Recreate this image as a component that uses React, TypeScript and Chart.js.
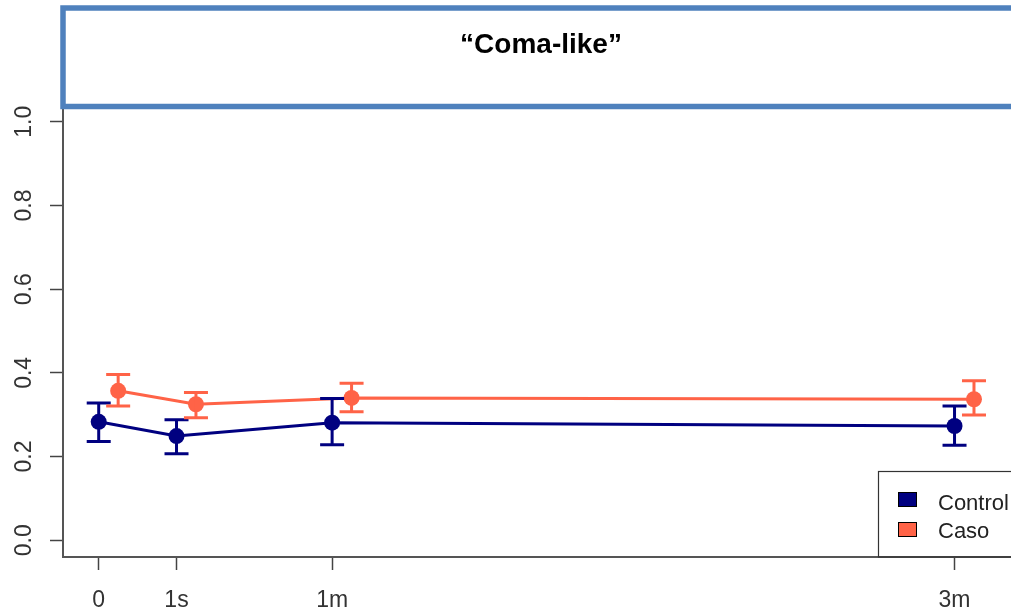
import React, { useEffect, useRef } from 'react';
import { Chart, registerables } from 'chart.js';

Chart.register(...registerables);

// ---- data ----
const categories = ['0', '1s', '1m', '3m'];
const categoryX = [0, 1, 3, 11];
const seriesNames = ['Control', 'Caso'];
const controlMean = [0.283, 0.249, 0.281, 0.273];
const controlLower = [0.236, 0.207, 0.228, 0.227];
const controlUpper = [0.328, 0.288, 0.339, 0.321];
const casoMean = [0.357, 0.325, 0.34, 0.337];
const casoLower = [0.321, 0.293, 0.307, 0.299];
const casoUpper = [0.396, 0.353, 0.375, 0.381];
const yTicks = [0, 0.2, 0.4, 0.6, 0.8, 1.0];
const yTickLabels = ['0.0', '0.2', '0.4', '0.6', '0.8', '1.0'];
const titleText = '\u201CComa-like\u201D';

const CONTROL_COLOR = '#000080';
const CASO_COLOR = '#FF6347';
const CASO_DODGE = 0.25;
const FONT = '"Liberation Sans", Arial, sans-serif';
const CANVAS_W = 1040;
const CANVAS_H = 614;

const errorBarPlugin = {
  id: 'errorBars',
  afterDatasetsDraw(chart: any) {
    const ctx = chart.ctx;
    const xs = chart.scales.x;
    const ys = chart.scales.y;
    ctx.save();
    chart.data.datasets.forEach((ds: any) => {
      ctx.strokeStyle = ds.borderColor;
      ctx.lineWidth = 3;
      ds.data.forEach((p: any, i: number) => {
        const px = xs.getPixelForValue(p.x);
        const lo = ys.getPixelForValue(ds.errLow[i]);
        const hi = ys.getPixelForValue(ds.errHigh[i]);
        ctx.beginPath();
        ctx.moveTo(px, lo);
        ctx.lineTo(px, hi);
        ctx.moveTo(px - 12, lo);
        ctx.lineTo(px + 12, lo);
        ctx.moveTo(px - 12, hi);
        ctx.lineTo(px + 12, hi);
        ctx.stroke();
      });
    });
    ctx.restore();
  },
};

const decorPlugin = {
  id: 'decor',
  afterDraw(chart: any) {
    const ctx = chart.ctx;
    ctx.save();
    // title box
    ctx.fillStyle = '#ffffff';
    ctx.fillRect(63, 8, CANVAS_W, 98.5);
    ctx.strokeStyle = '#4F81BD';
    ctx.lineWidth = 5.5;
    ctx.strokeRect(63, 8, CANVAS_W, 98.5);
    ctx.fillStyle = '#000000';
    ctx.font = `bold 28px ${FONT}`;
    ctx.textAlign = 'center';
    ctx.textBaseline = 'alphabetic';
    ctx.fillText(titleText, 541, 53);

    // legend
    const area = chart.chartArea;
    ctx.strokeStyle = '#333333';
    ctx.lineWidth = 1.2;
    ctx.strokeRect(878.5, 471.5, CANVAS_W, area.bottom - 471.5);
    ctx.font = `22px ${FONT}`;
    ctx.textAlign = 'left';
    const rows = [
      { y: 492, base: 510 },
      { y: 522, base: 538 },
    ];
    chart.data.datasets.forEach((ds: any, i: number) => {
      const r = rows[i];
      ctx.fillStyle = ds.borderColor;
      ctx.fillRect(898, r.y, 19, 15);
      ctx.strokeStyle = '#000000';
      ctx.lineWidth = 1;
      ctx.strokeRect(898.5, r.y + 0.5, 18, 14);
      ctx.fillStyle = '#222222';
      ctx.fillText(ds.label, 938, r.base);
    });
    ctx.restore();
  },
};

export default function App() {
  const ref = useRef<HTMLCanvasElement | null>(null);

  useEffect(() => {
    if (!ref.current) return;
    const controlData = categoryX.map((x, i) => ({ x, y: controlMean[i] }));
    const casoData = categoryX.map((x, i) => ({ x: x + CASO_DODGE, y: casoMean[i] }));
    const chart = new Chart(ref.current, {
      type: 'line',
      data: {
        datasets: [
          {
            label: seriesNames[0],
            data: controlData,
            borderColor: CONTROL_COLOR,
            backgroundColor: CONTROL_COLOR,
            pointBackgroundColor: CONTROL_COLOR,
            borderWidth: 3,
            pointRadius: 8,
            pointBorderWidth: 0,
            tension: 0,
            errLow: controlLower,
            errHigh: controlUpper,
          } as any,
          {
            label: seriesNames[1],
            data: casoData,
            borderColor: CASO_COLOR,
            backgroundColor: CASO_COLOR,
            pointBackgroundColor: CASO_COLOR,
            borderWidth: 3,
            pointRadius: 8,
            pointBorderWidth: 0,
            tension: 0,
            errLow: casoLower,
            errHigh: casoUpper,
          } as any,
        ],
      },
      options: {
        animation: false,
        responsive: false,
        devicePixelRatio: 1,
        layout: { padding: { top: 105, right: CANVAS_W - 1023, left: 0, bottom: 0 } },
        plugins: {
          legend: { display: false },
          tooltip: { enabled: false },
          title: { display: false },
        },
        scales: {
          x: {
            type: 'linear',
            min: -0.459,
            max: 11.88,
            afterBuildTicks: (scale: any) => {
              scale.ticks = categoryX.map((v) => ({ value: v }));
            },
            afterFit: (scale: any) => {
              scale.height = CANVAS_H - 557;
            },
            ticks: {
              autoSkip: false,
              maxRotation: 0,
              minRotation: 0,
              padding: 17,
              color: '#333333',
              font: { family: FONT, size: 23 },
              callback: (value: any) => {
                const idx = categoryX.indexOf(Number(value));
                return idx >= 0 ? categories[idx] : '';
              },
            },
            grid: {
              drawOnChartArea: false,
              drawTicks: true,
              tickLength: 13,
              tickWidth: 1.5,
              tickColor: '#444444',
            },
            border: { display: true, color: '#555555', width: 2 },
          },
          y: {
            type: 'linear',
            min: -0.04,
            max: 1.04,
            afterBuildTicks: (scale: any) => {
              scale.ticks = yTicks.map((v) => ({ value: v }));
            },
            afterFit: (scale: any) => {
              scale.width = 63;
            },
            ticks: {
              autoSkip: false,
              minRotation: 90,
              maxRotation: 90,
              crossAlign: 'center',
              padding: 9,
              color: '#333333',
              font: { family: FONT, size: 23 },
              callback: (value: any) => {
                const idx = yTicks.findIndex((t) => Math.abs(t - Number(value)) < 1e-9);
                return idx >= 0 ? yTickLabels[idx] : '';
              },
            },
            grid: {
              drawOnChartArea: false,
              drawTicks: true,
              tickLength: 13,
              tickWidth: 1.5,
              tickColor: '#444444',
            },
            border: { display: true, color: '#555555', width: 2 },
          },
        },
      } as any,
      plugins: [errorBarPlugin, decorPlugin],
    });
    return () => chart.destroy();
  }, []);

  return (
    <div
      style={{
        position: 'fixed',
        left: 0,
        top: 0,
        width: 1011,
        height: 614,
        overflow: 'hidden',
        background: '#ffffff',
      }}
    >
      <canvas ref={ref} width={CANVAS_W} height={CANVAS_H} style={{ width: CANVAS_W, height: CANVAS_H, display: 'block' }} />
    </div>
  );
}
